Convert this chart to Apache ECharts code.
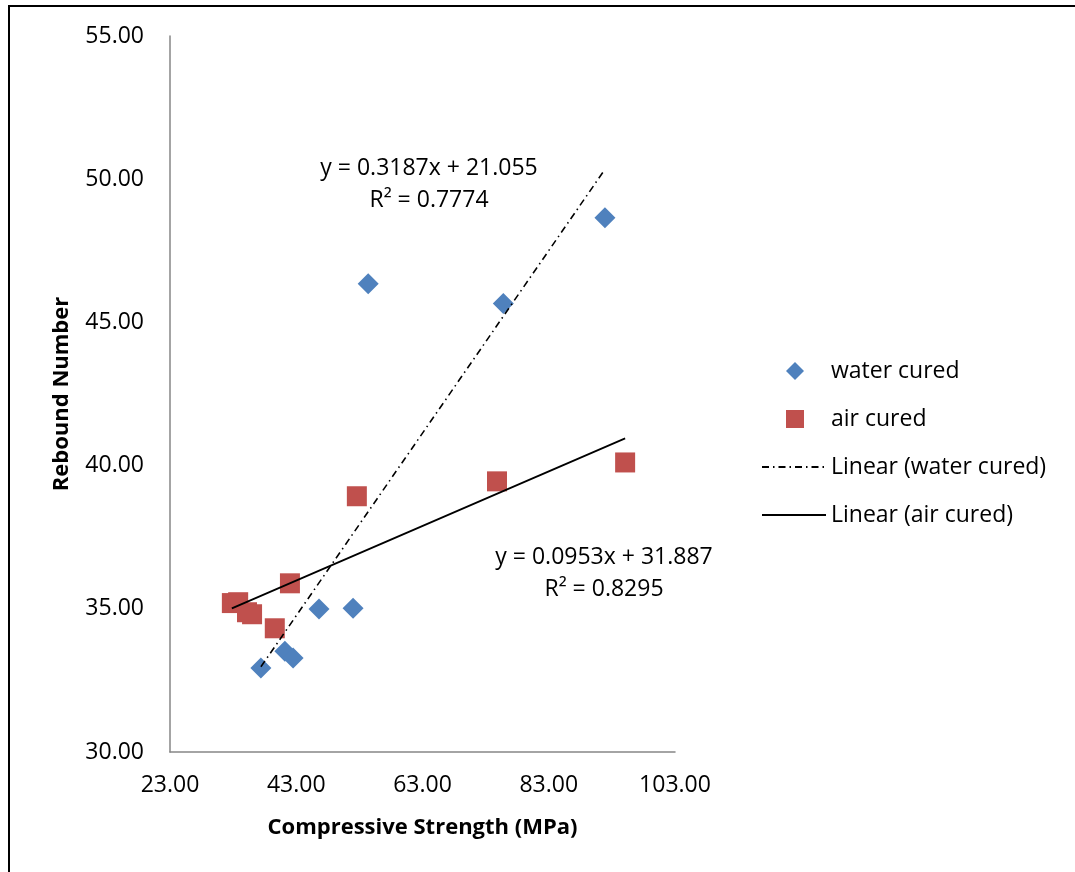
<!DOCTYPE html>
<html>
<head>
<meta charset="utf-8">
<script src="https://cdn.jsdelivr.net/npm/echarts@6/dist/echarts.min.js"></script>
<style>
  html, body { margin: 0; padding: 0; background: #fff; }
  #chart { width: 1075px; height: 872px; }
</style>
</head>
<body>
<div id="chart"></div>
<script>
  // compressive strength (MPa) / rebound number
  const waterX = [37.4, 41.2, 42.5, 46.6, 52.0, 54.4, 75.8, 91.9];
  const waterY = [32.93, 33.52, 33.28, 34.99, 35.02, 46.35, 45.66, 48.65];
  const airX = [32.8, 33.8, 35.2, 36.0, 39.6, 42.0, 52.6, 74.8, 95.1];
  const airY = [35.20, 35.23, 34.88, 34.81, 34.32, 35.89, 38.93, 39.45, 40.11];

  // trendline coefficients as printed on the chart
  const waterFit = { slope: 0.3187, intercept: 21.055, r2: '0.7774' };
  const airFit = { slope: 0.0953, intercept: 31.887, r2: '0.8295' };

  const xTicks = [23, 43, 63, 83, 103];
  const FONT = '"Open Sans", "Liberation Sans", sans-serif';

  const zip = (xs, ys) => xs.map((x, i) => [x, ys[i]]);
  // trendline runs from the smallest to the largest x of its series
  const fitLine = (xs, fit) => {
    const lo = Math.min(...xs);
    const hi = Math.max(...xs);
    return [[lo, fit.slope * lo + fit.intercept], [hi, fit.slope * hi + fit.intercept]];
  };
  const eqText = fit => `y = ${fit.slope}x + ${fit.intercept}\nR² = ${fit.r2}`;

  const legendText = { fontFamily: FONT, fontSize: 23, color: '#000', lineHeight: 24 };

  const chart = echarts.init(document.getElementById('chart'));

  chart.setOption({
    animation: false,
    backgroundColor: '#fff',
    grid: { left: 170, right: 400, top: 36, bottom: 120 },
    xAxis: {
      type: 'value',
      min: 23,
      max: 103,
      name: 'Compressive Strength (MPa)',
      nameLocation: 'middle',
      nameGap: 65,
      nameTextStyle: { fontFamily: FONT, fontSize: 22, fontWeight: 'bold', color: '#000' },
      axisLine: { show: true, lineStyle: { color: '#868686', width: 1.5 } },
      axisTick: { show: false },
      splitLine: { show: false },
      axisLabel: {
        customValues: xTicks,
        margin: 22,
        fontFamily: FONT,
        fontSize: 23,
        color: '#000',
        formatter: v => v.toFixed(2),
      },
    },
    yAxis: {
      type: 'value',
      min: 30,
      max: 55,
      interval: 5,
      name: 'Rebound Number',
      nameLocation: 'middle',
      nameGap: 97,
      nameTextStyle: { fontFamily: FONT, fontSize: 22, fontWeight: 'bold', color: '#000' },
      axisLine: { show: true, lineStyle: { color: '#868686', width: 1.5 } },
      axisTick: { show: false },
      splitLine: { show: false },
      axisLabel: {
        margin: 26,
        fontFamily: FONT,
        fontSize: 23,
        color: '#000',
        formatter: v => v.toFixed(2),
      },
    },
    legend: [
      {
        // marker entries
        orient: 'vertical',
        left: 781,
        top: 354,
        itemWidth: 18,
        itemHeight: 18,
        itemGap: 24,
        textStyle: Object.assign({ padding: [0, 0, 0, 22] }, legendText),
        data: [
          { name: 'water cured', icon: 'diamond' },
          { name: 'air cured', icon: 'rect' },
        ],
      },
      {
        // trendline entries
        orient: 'vertical',
        left: 756,
        top: 450,
        itemWidth: 64,
        itemHeight: 18,
        itemGap: 24,
        textStyle: legendText,
        data: ['Linear (water cured)', 'Linear (air cured)'],
      },
    ],
    graphic: [
      {
        type: 'rect',
        silent: true,
        shape: { x: 9, y: 6, width: 1100, height: 900 },
        style: { fill: 'none', stroke: '#000', lineWidth: 2 },
      },
      {
        type: 'text',
        x: 429,
        y: 152,
        style: {
          text: eqText(waterFit),
          align: 'center',
          font: `23px ${FONT}`,
          lineHeight: 32,
          fill: '#000',
        },
      },
      {
        type: 'text',
        x: 604,
        y: 541,
        style: {
          text: eqText(airFit),
          align: 'center',
          font: `23px ${FONT}`,
          lineHeight: 32,
          fill: '#000',
        },
      },
    ],
    series: [
      {
        name: 'Linear (water cured)',
        type: 'line',
        data: fitLine(waterX, waterFit),
        symbol: 'circle',
        showSymbol: false,
        z: 3,
        itemStyle: { color: '#000', opacity: 0 },
        lineStyle: { color: '#000', width: 1.6, type: [7, 4, 1.5, 4] },
      },
      {
        name: 'Linear (air cured)',
        type: 'line',
        data: fitLine(airX, airFit),
        symbol: 'circle',
        showSymbol: false,
        z: 3,
        itemStyle: { color: '#000', opacity: 0 },
        lineStyle: { color: '#000', width: 1.8, type: 'solid', opacity: 1 },
      },
      {
        name: 'water cured',
        type: 'scatter',
        data: zip(waterX, waterY),
        symbol: 'diamond',
        symbolSize: 21,
        z: 2,
        itemStyle: { color: '#4F81BD', opacity: 1 },
      },
      {
        name: 'air cured',
        type: 'scatter',
        data: zip(airX, airY),
        symbol: 'rect',
        symbolSize: 20,
        z: 2,
        itemStyle: { color: '#C0504D', opacity: 1 },
      },
    ],
  });
</script>
</body>
</html>
